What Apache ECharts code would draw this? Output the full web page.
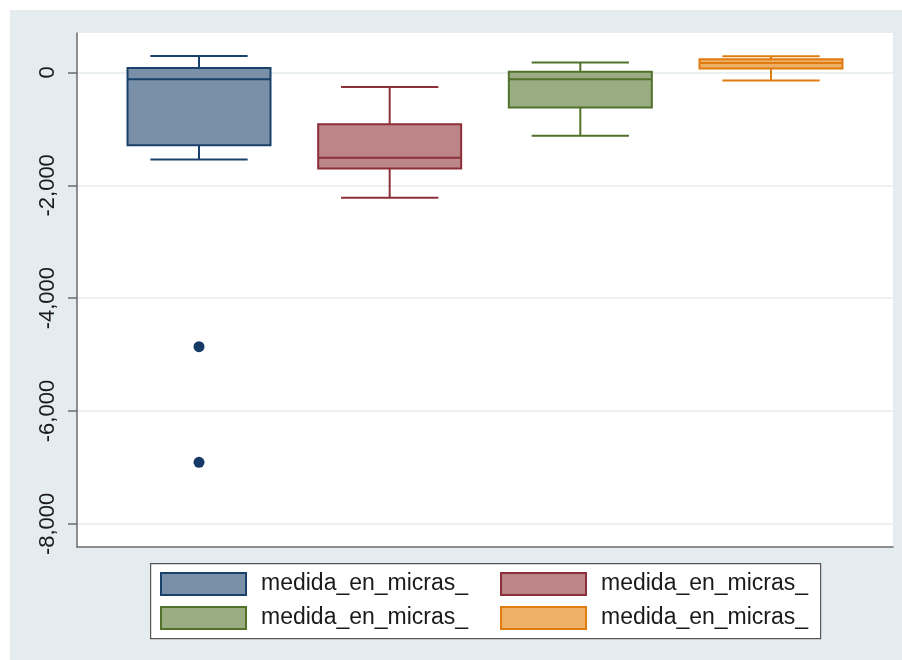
<!DOCTYPE html>
<html>
<head>
<meta charset="utf-8">
<script src="https://cdn.jsdelivr.net/npm/echarts@6/dist/echarts.min.js"></script>
<style>
  html, body { margin: 0; padding: 0; background: #fff; }
  #chart { position: absolute; left: 10px; top: 10px; width: 892px; height: 650px; }
</style>
</head>
<body>
<div id="chart"></div>
<script>
// data
const seriesNames = ['medida_en_micras_1', 'medida_en_micras_2', 'medida_en_micras_3', 'medida_en_micras_4'];
const positions = [1, 2, 3, 4];
const lowerWhisker = [-1541, -2221, -1123, -142];
const q1 = [-1288, -1701, -620, 71];
const median = [-119, -1513, -119, 170];
const q3 = [81, -916, 11, 236];
const upperWhisker = [294, -255, 177, 289];
const outliers = [[1, -4860], [1, -6910]];
const yTicks = [-8000, -6000, -4000, -2000, 0];

const lineColors = ['#1a406c', '#8c2f38', '#52722c', '#e07b10'];
const fillColors = ['#7a90a8', '#bc8689', '#9aad82', '#eeb066'];
const FONT = "'Liberation Sans', Arial, sans-serif";
const BOX_HALF = 0.375;
const CAP_HALF = 0.255;

function fmt(v) {
  return String(v).replace(/\B(?=(\d{3})+(?!\d))/g, ',');
}

function renderBox(params, api) {
  const i = params.seriesIndex;
  const x = api.value(0);
  const lo = api.coord([x, api.value(1)]);
  const b1 = api.coord([x - BOX_HALF, api.value(2)]);
  const md = api.coord([x - BOX_HALF, api.value(3)]);
  const b3 = api.coord([x + BOX_HALF, api.value(4)]);
  const hi = api.coord([x, api.value(5)]);
  const capL = api.coord([x - CAP_HALF, 0])[0];
  const capR = api.coord([x + CAP_HALF, 0])[0];
  const ls = { stroke: lineColors[i], lineWidth: 2 };
  return {
    type: 'group',
    children: [
      { type: 'line', shape: { x1: lo[0], y1: b1[1], x2: lo[0], y2: lo[1] }, style: ls },
      { type: 'line', shape: { x1: hi[0], y1: b3[1], x2: hi[0], y2: hi[1] }, style: ls },
      { type: 'line', shape: { x1: capL, y1: lo[1], x2: capR, y2: lo[1] }, style: ls },
      { type: 'line', shape: { x1: capL, y1: hi[1], x2: capR, y2: hi[1] }, style: ls },
      { type: 'rect', shape: { x: b1[0], y: b3[1], width: b3[0] - b1[0], height: b1[1] - b3[1] },
        style: { fill: fillColors[i], stroke: lineColors[i], lineWidth: 2 } },
      { type: 'line', shape: { x1: md[0], y1: md[1], x2: b3[0], y2: md[1] }, style: ls }
    ]
  };
}

const series = seriesNames.map(function (name, i) {
  return {
    name: name,
    type: 'custom',
    renderItem: renderBox,
    encode: { x: 0, y: [1, 2, 3, 4, 5] },
    itemStyle: { color: fillColors[i], borderColor: lineColors[i], borderWidth: 2 },
    data: [[positions[i], lowerWhisker[i], q1[i], median[i], q3[i], upperWhisker[i]]]
  };
});
series.push({
  name: 'outliers',
  type: 'scatter',
  symbolSize: 11,
  itemStyle: { color: '#163a66', opacity: 1 },
  data: outliers
});

// two legend columns: series 1 & 3 on the left, 2 & 4 on the right
function legendColumn(left, idx) {
  return {
    orient: 'vertical',
    left: left, top: 562,
    padding: 0,
    itemWidth: 85,
    itemHeight: 22,
    itemGap: 10,
    icon: 'rect',
    selectedMode: false,
    data: idx.map(function (i) {
      return { name: seriesNames[i], itemStyle: { color: fillColors[i], borderColor: lineColors[i], borderWidth: 2 } };
    }),
    formatter: function (n) { return n.replace(/\d+$/, ''); },
    textStyle: { fontFamily: FONT, fontSize: 23, color: '#1a1a1a', padding: [0, 0, 0, 10] }
  };
}

const chart = echarts.init(document.getElementById('chart'));
chart.setOption({
  animation: false,
  backgroundColor: '#e4ecef',
  graphic: [{
    type: 'rect',
    left: 140, top: 553,
    shape: { width: 670, height: 75 },
    style: { fill: '#fff', stroke: '#555', lineWidth: 1.2 }
  }],
  legend: [legendColumn(150, [0, 2]), legendColumn(490, [1, 3])],
  grid: {
    left: 67, top: 23, right: 9, bottom: 113,
    show: true, backgroundColor: '#fff', borderWidth: 0
  },
  xAxis: {
    type: 'value',
    min: 0.36, max: 4.64,
    axisLine: { show: true, onZero: false, lineStyle: { color: '#6b6b6b', width: 1.5 } },
    axisTick: { show: false },
    axisLabel: { show: false },
    splitLine: { show: false }
  },
  yAxis: {
    type: 'value',
    min: -8410, max: 700,
    axisLine: { show: true, lineStyle: { color: '#6b6b6b', width: 1.5 } },
    axisTick: { show: true, length: 9, customValues: yTicks, lineStyle: { color: '#6b6b6b', width: 1.5 } },
    axisLabel: {
      customValues: yTicks,
      rotate: 90, margin: 18,
      fontFamily: FONT, fontSize: 22, color: '#1a1a1a',
      formatter: fmt
    },
    splitLine: { show: true, lineStyle: { color: '#e4ecef', width: 1.5 } }
  },
  series: series
});
</script>
</body>
</html>
